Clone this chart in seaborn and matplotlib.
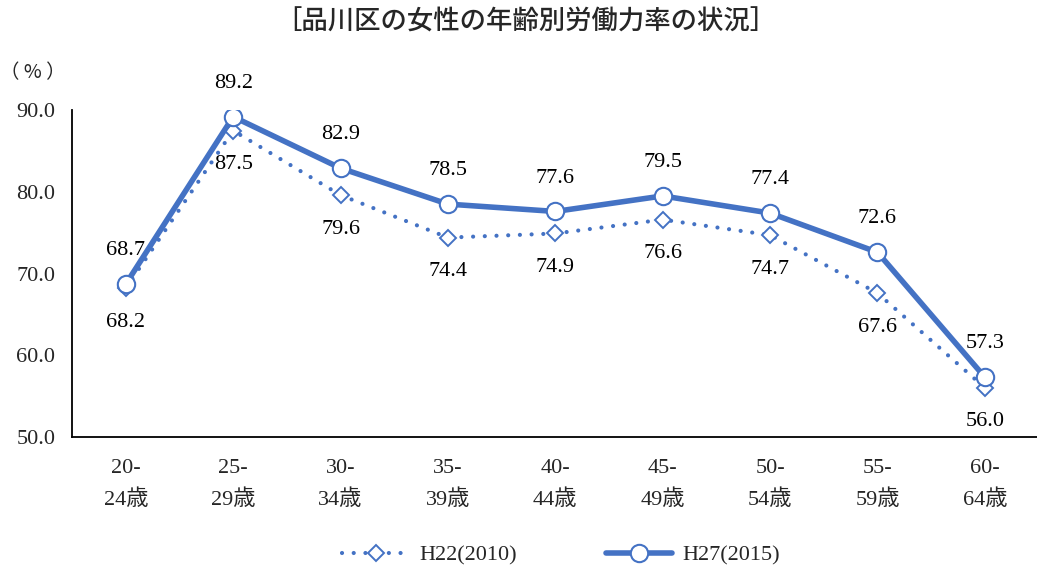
import matplotlib
matplotlib.use("Agg")
import matplotlib.pyplot as plt
import seaborn as sns
import pandas as pd
import numpy as np

categories = ["20-\n24歳", "25-\n29歳", "30-\n34歳", "35-\n39歳", "40-\n44歳",
              "45-\n49歳", "50-\n54歳", "55-\n59歳", "60-\n64歳"]
h22 = [68.2, 87.5, 79.6, 74.4, 74.9, 76.6, 74.7, 67.6, 56.0]
h27 = [68.7, 89.2, 82.9, 78.5, 77.6, 79.5, 77.4, 72.6, 57.3]
label_h22 = "H22(2010)"
label_h27 = "H27(2015)"
title = "［品川区の女性の年齢別労働力率の状況］"
yticks = [50, 60, 70, 80, 90]

sns.set_theme(style="white")
serif = ["Liberation Serif", "Noto Sans CJK JP"]
plt.rcParams["font.family"] = serif

color = "#4472C4"
FS = 16
fig = plt.figure(figsize=(10.37, 5.71), dpi=100)
ax = fig.add_axes([0.0695, 0.235, 0.932, 0.572])

df = pd.DataFrame({"pos": np.arange(len(categories)), "h22": h22, "h27": h27})

sns.lineplot(data=df, x="pos", y="h22", ax=ax, color=color, linewidth=3.0,
             linestyle=(0, (0.01, 2.8)), marker="D", markersize=8.5,
             markerfacecolor="white", markeredgecolor=color, markeredgewidth=1.4,
             label=label_h22)
ax.lines[-1].set_dash_capstyle("round")
sns.lineplot(data=df, x="pos", y="h27", ax=ax, color=color, linewidth=4,
             marker="o", markersize=12.5, markerfacecolor="white",
             markeredgecolor=color, markeredgewidth=1.5, label=label_h27)

for i, (a, b) in enumerate(zip(h22, h27)):
    ax.annotate(f"{b:.1f}", (i, b), xytext=(0, 24), textcoords="offset points",
                ha="center", va="center", fontsize=FS, color="black")
    ax.annotate(f"{a:.1f}", (i, a), xytext=(0, -24.5), textcoords="offset points",
                ha="center", va="center", fontsize=FS, color="black")

ax.set_xlim(-0.5, len(categories) - 0.5)
ax.set_ylim(50, 90)
ax.set_yticks(yticks)
ax.set_yticklabels([f"{v:.1f}" for v in yticks], fontsize=FS)
ax.set_xticks(np.arange(len(categories)))
ax.set_xticklabels(categories, fontsize=FS, linespacing=1.75)
ax.set_xticks(np.arange(len(categories)) + 0.5, minor=True)
ax.tick_params(axis="x", which="major", length=0, pad=16)
ax.tick_params(axis="x", which="minor", direction="in", length=7, width=1, color="black")
ax.tick_params(axis="y", which="major", direction="in", length=6, width=1, color="black", pad=12)
ax.set_xlabel("")
ax.set_ylabel("")
for s in ["top", "right"]:
    ax.spines[s].set_visible(False)
for s in ["left", "bottom"]:
    ax.spines[s].set_color("black")
    ax.spines[s].set_linewidth(1.3)
ax.grid(False)

fig.text(0.032, 0.873, "（ % ）", fontsize=14, ha="center", va="center",
         family=["Noto Sans CJK JP"])
fig.text(0.507, 0.962, title, fontsize=19, ha="center", va="center",
         family=["Noto Sans CJK JP"], weight="medium")

ax.legend(loc="lower center", bbox_to_anchor=(0.506, -0.455), ncol=2, frameon=False,
          fontsize=FS, handlelength=3.0, columnspacing=4.0, handletextpad=0.45)

fig.savefig("out.png", dpi=100)
